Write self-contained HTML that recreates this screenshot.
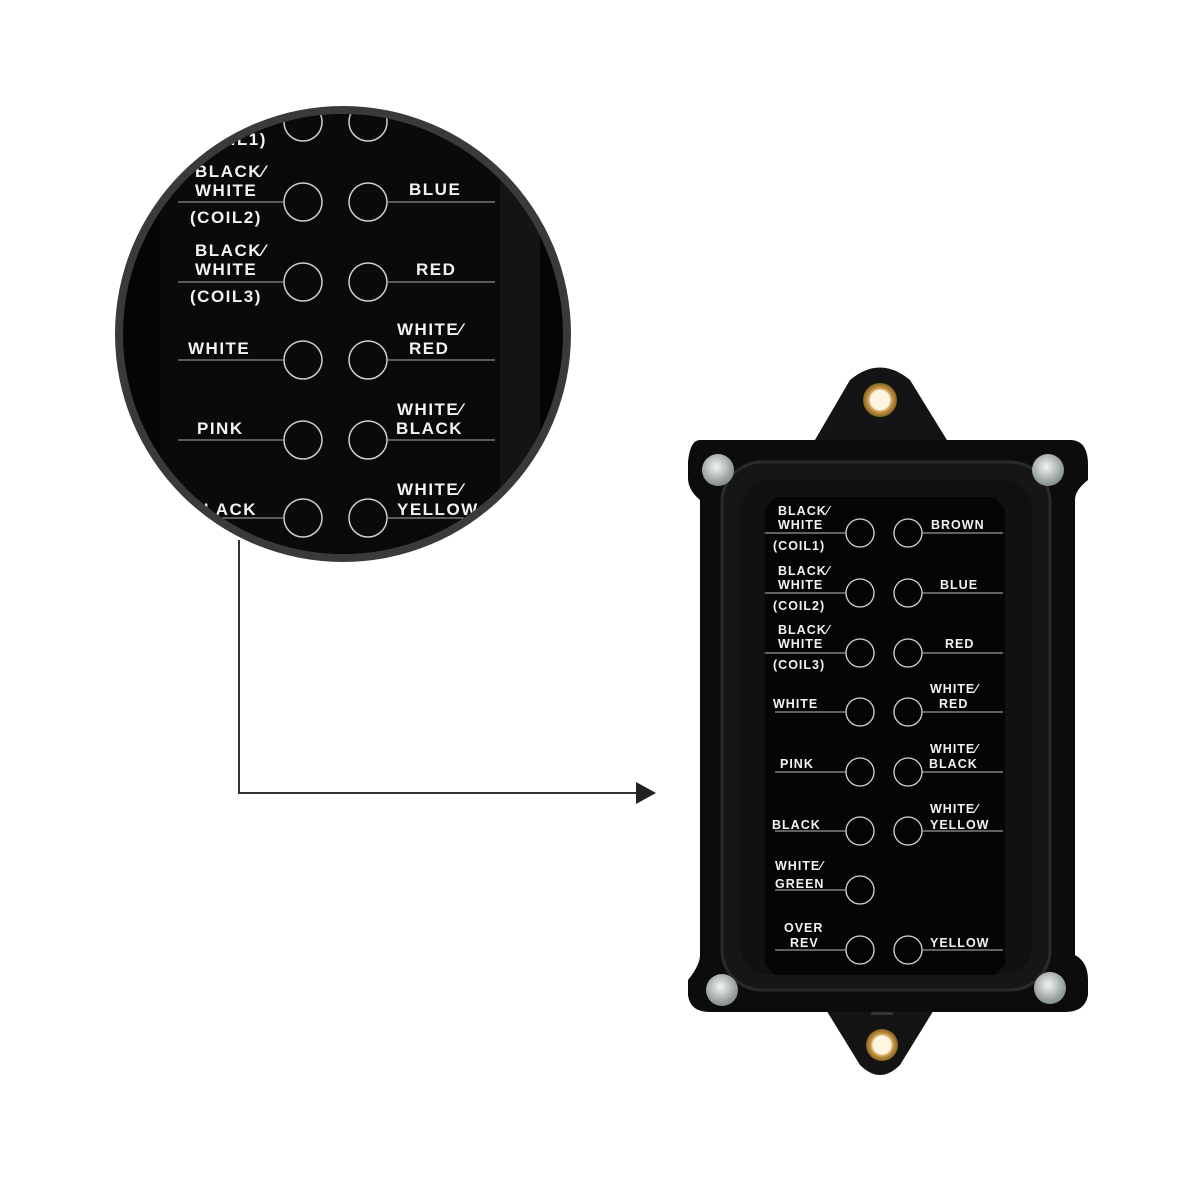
<!DOCTYPE html>
<html><head><style>
html,body{margin:0;padding:0;background:#fff;}
svg{display:block;}
text{font-family:"Liberation Sans",sans-serif;font-weight:bold;fill:#f2f2f2;}
</style></head><body>
<svg width="1200" height="1200" viewBox="0 0 1200 1200">
<defs>
<clipPath id="mc"><circle cx="343" cy="334" r="220"/></clipPath>
<radialGradient id="brass" cx="50%" cy="50%" r="50%">
<stop offset="0.55" stop-color="#fff6df"/><stop offset="0.7" stop-color="#c89a4a"/><stop offset="1" stop-color="#8a6020"/></radialGradient>
<radialGradient id="scr" cx="45%" cy="40%" r="55%"><stop offset="0" stop-color="#f2f4f4"/><stop offset="1" stop-color="#8c9494"/></radialGradient>
</defs>
<!-- connector -->
<polyline points="239,540 239,793 636,793" fill="none" stroke="#333" stroke-width="2"/>
<polygon points="636,782 656,793 636,804" fill="#222"/>
<!-- magnifier -->
<circle cx="343" cy="334" r="228" fill="#3a3a3a"/>
<circle cx="343" cy="334" r="220" fill="#050505"/>
<g clip-path="url(#mc)" font-size="17" letter-spacing="1.5">
<rect x="160" y="100" width="345" height="460" fill="#0a0a0a"/>
<rect x="500" y="100" width="40" height="460" fill="#141414"/>
<g stroke="#cfcfcf" stroke-width="1.5" fill="none">
<circle cx="303" cy="122" r="19"/><circle cx="368" cy="122" r="19"/>
<circle cx="303" cy="202" r="19"/><circle cx="368" cy="202" r="19"/>
<circle cx="303" cy="282" r="19"/><circle cx="368" cy="282" r="19"/>
<circle cx="303" cy="360" r="19"/><circle cx="368" cy="360" r="19"/>
<circle cx="303" cy="440" r="19"/><circle cx="368" cy="440" r="19"/>
<circle cx="303" cy="518" r="19"/><circle cx="368" cy="518" r="19"/>
<g stroke-width="1" stroke="#aaa">
<line x1="178" y1="202" x2="284" y2="202"/><line x1="387" y1="202" x2="495" y2="202"/>
<line x1="178" y1="282" x2="284" y2="282"/><line x1="387" y1="282" x2="495" y2="282"/>
<line x1="178" y1="360" x2="284" y2="360"/><line x1="387" y1="360" x2="495" y2="360"/>
<line x1="178" y1="440" x2="284" y2="440"/><line x1="387" y1="440" x2="495" y2="440"/>
<line x1="178" y1="518" x2="284" y2="518"/><line x1="387" y1="518" x2="495" y2="518"/>
<line x1="178" y1="122" x2="284" y2="122"/>
</g></g>
<text x="195" y="145">(COIL1)</text>
<text x="195" y="177">BLACK⁄</text><text x="195" y="196">WHITE</text><text x="190" y="223">(COIL2)</text>
<text x="409" y="195">BLUE</text>
<text x="195" y="256">BLACK⁄</text><text x="195" y="275">WHITE</text><text x="190" y="302">(COIL3)</text>
<text x="416" y="275">RED</text>
<text x="188" y="354">WHITE</text>
<text x="397" y="335">WHITE⁄</text><text x="409" y="354">RED</text>
<text x="197" y="434">PINK</text>
<text x="397" y="415">WHITE⁄</text><text x="396" y="434">BLACK</text>
<text x="190" y="515">BLACK</text>
<text x="397" y="495">WHITE⁄</text><text x="397" y="515">YELLOW</text>
</g>
<!-- device -->
<path d="M812,445 L850,380 Q880,355 910,380 L950,445 Z" fill="#141414"/>
<circle cx="880" cy="400" r="17" fill="url(#brass)"/>
<path d="M820,1000 L860,1065 Q880,1085 900,1065 L940,1000 Z" fill="#141414"/>
<circle cx="882" cy="1045" r="16" fill="url(#brass)"/>
<rect x="871" y="997" width="22" height="18" fill="#333"/>
<path d="M700,440 H1070 Q1088,440 1088,465 V480 Q1075,490 1075,500 V955 Q1088,962 1088,980 V995 Q1085,1012 1065,1012 H710 Q690,1012 688,995 V980 Q700,965 700,955 V500 Q688,490 688,478 V462 Q690,440 700,440 Z" fill="#0c0c0c"/>
<rect x="722" y="462" width="328" height="528" rx="40" fill="#161616" stroke="#2a2a2a" stroke-width="3"/>
<rect x="740" y="480" width="292" height="494" rx="28" fill="#111"/>
<path d="M775,497 H995 L1005,510 V965 L995,975 H775 L765,965 V510 Z" fill="#050505"/>
<circle cx="718" cy="470" r="16" fill="url(#scr)"/><circle cx="1048" cy="470" r="16" fill="url(#scr)"/>
<circle cx="722" cy="990" r="16" fill="url(#scr)"/><circle cx="1050" cy="988" r="16" fill="url(#scr)"/>
<g stroke="#d8d8d8" stroke-width="1.3" fill="none">
<circle cx="860" cy="533" r="14"/><circle cx="908" cy="533" r="14"/>
<circle cx="860" cy="593" r="14"/><circle cx="908" cy="593" r="14"/>
<circle cx="860" cy="653" r="14"/><circle cx="908" cy="653" r="14"/>
<circle cx="860" cy="712" r="14"/><circle cx="908" cy="712" r="14"/>
<circle cx="860" cy="772" r="14"/><circle cx="908" cy="772" r="14"/>
<circle cx="860" cy="831" r="14"/><circle cx="908" cy="831" r="14"/>
<circle cx="860" cy="890" r="14"/>
<circle cx="860" cy="950" r="14"/><circle cx="908" cy="950" r="14"/>
<g stroke="#bbb" stroke-width="1">
<line x1="765" y1="533" x2="846" y2="533"/><line x1="922" y1="533" x2="1003" y2="533"/>
<line x1="765" y1="593" x2="846" y2="593"/><line x1="922" y1="593" x2="1003" y2="593"/>
<line x1="765" y1="653" x2="846" y2="653"/><line x1="922" y1="653" x2="1003" y2="653"/>
<line x1="775" y1="712" x2="846" y2="712"/><line x1="922" y1="712" x2="1003" y2="712"/>
<line x1="775" y1="772" x2="846" y2="772"/><line x1="922" y1="772" x2="1003" y2="772"/>
<line x1="775" y1="831" x2="846" y2="831"/><line x1="922" y1="831" x2="1003" y2="831"/>
<line x1="775" y1="890" x2="846" y2="890"/>
<line x1="775" y1="950" x2="846" y2="950"/><line x1="922" y1="950" x2="1003" y2="950"/>
</g></g>
<g font-size="12.5" letter-spacing="1">
<text x="778" y="515">BLACK⁄</text><text x="778" y="529">WHITE</text><text x="773" y="550">(COIL1)</text>
<text x="931" y="529">BROWN</text>
<text x="778" y="575">BLACK⁄</text><text x="778" y="589">WHITE</text><text x="773" y="610">(COIL2)</text>
<text x="940" y="589">BLUE</text>
<text x="778" y="634">BLACK⁄</text><text x="778" y="648">WHITE</text><text x="773" y="669">(COIL3)</text>
<text x="945" y="648">RED</text>
<text x="773" y="708">WHITE</text>
<text x="930" y="693">WHITE⁄</text><text x="939" y="708">RED</text>
<text x="780" y="768">PINK</text>
<text x="930" y="753">WHITE⁄</text><text x="929" y="768">BLACK</text>
<text x="772" y="829">BLACK</text>
<text x="930" y="813">WHITE⁄</text><text x="930" y="829">YELLOW</text>
<text x="775" y="870">WHITE⁄</text><text x="775" y="888">GREEN</text>
<text x="784" y="932">OVER</text><text x="790" y="947">REV</text>
<text x="930" y="947">YELLOW</text>
</g>
</svg>
</body></html>
